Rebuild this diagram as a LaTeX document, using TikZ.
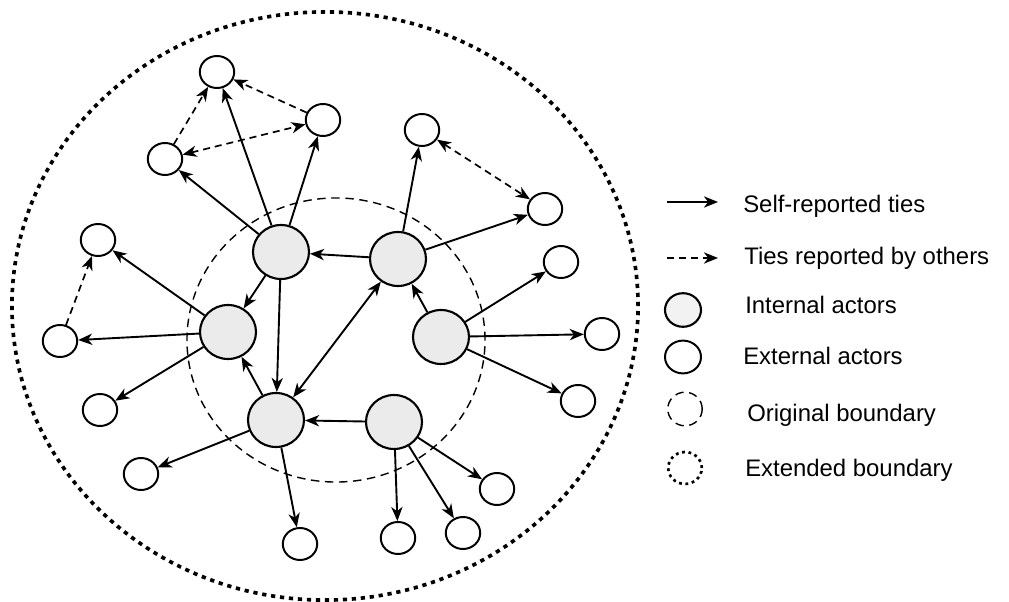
\documentclass[tikz,border=0pt]{standalone}
\usepackage{fontspec}
\setmainfont{Liberation Sans}
\usetikzlibrary{shapes.geometric,arrows.meta}

\tikzset{
  intern/.style={ellipse,draw,line width=1.5pt,fill=black!8,minimum width=1.4cm,minimum height=1.35cm,inner sep=0pt},
  extern/.style={ellipse,draw,line width=1.4pt,fill=white,minimum width=0.86cm,minimum height=0.8cm,inner sep=0pt},
  selftie/.style={line width=1.35pt,>={Stealth[length=10pt,width=8pt,inset=3pt]},->},
  othertie/.style={selftie,line width=1.2pt,dash pattern=on 5pt off 3.5pt},
  origbound/.style={line width=1pt,dash pattern=on 6pt off 4pt},
  extbound/.style={line width=2.6pt,dash pattern=on 3pt off 3.4pt},
  legtext/.style={anchor=base west,font=\fontsize{17}{20}\selectfont,inner sep=0pt}
}

\begin{document}
\begin{tikzpicture}[x=0.025cm,y=-0.025cm]
  \useasboundingbox (0,0) rectangle (1009,602);
  \draw[extbound] (325,306) ellipse [x radius=7.825cm, y radius=7.35cm];
  \draw[origbound] (336,340) ellipse [x radius=3.725cm, y radius=3.55cm];

  \path (281,252) node[intern] (ia) {};
  \path (398,259) node[intern] (ib) {};
  \path (228,332) node[intern] (ic) {};
  \path (441,337) node[intern] (id) {};
  \path (276,420) node[intern] (ie) {};
  \path (394,422) node[intern] (if) {};

  \path (217,72) node[extern] (x1) {};
  \path (323,120) node[extern] (x2) {};
  \path (165,159) node[extern] (x3) {};
  \path (422,130) node[extern] (x4) {};
  \path (545,209) node[extern] (x5) {};
  \path (98,240) node[extern] (x6) {};
  \path (60,341) node[extern] (x7) {};
  \path (100,410) node[extern] (x8) {};
  \path (561,262) node[extern] (x9) {};
  \path (602,334) node[extern] (x10) {};
  \path (578,401) node[extern] (x11) {};
  \path (141,474) node[extern] (x12) {};
  \path (300,544) node[extern] (x13) {};
  \path (398,538) node[extern] (x14) {};
  \path (463,533) node[extern] (x15) {};
  \path (497,489) node[extern] (x16) {};

  \begin{scope}[selftie]
    \draw (ia) -- (x1);
    \draw (ia) -- (x2);
    \draw (ia) -- (x3);
    \draw (ib) -- (ia);
    \draw (ia) -- (ic);
    \draw (ia) -- (ie);
    \draw (ib) -- (x4);
    \draw (ib) -- (x5);
    \draw (ic) -- (x6);
    \draw (ic) -- (x7);
    \draw (ic) -- (x8);
    \draw (id) -- (ib);
    \draw (id) -- (x9);
    \draw (id) -- (x10);
    \draw (id) -- (x11);
    \draw[<->] (ie) -- (ib);
    \draw (ie) -- (ic);
    \draw (ie) -- (x12);
    \draw (ie) -- (x13);
    \draw (if) -- (ie);
    \draw (if) -- (x14);
    \draw (if) -- (x15);
    \draw (if) -- (x16);
  \end{scope}
  \begin{scope}[othertie]
    \draw[<->] (x3) -- (x2);
    \draw (x3) -- (x1);
    \draw (x2) -- (x1);
    \draw[<->] (x4) -- (x5);
    \draw (x7) -- (x6);
  \end{scope}

  \coordinate (ls1) at (667,202);
  \coordinate (le1) at (718,202);
  \coordinate (ls2) at (667,258);
  \coordinate (le2) at (718,258);
  \draw[selftie] (ls1) -- (le1);
  \draw[othertie] (ls2) -- (le2);
  \path (683,310) node[intern,fill=black!5,minimum width=0.9cm,minimum height=0.84cm] (lgin) {};
  \path (683,357) node[extern,minimum width=0.9cm,minimum height=0.82cm] (lgex) {};
  \path (685,409) node[ellipse,draw,origbound,minimum width=0.86cm,minimum height=0.84cm] (lgorig) {};
  \path (685,468) node[ellipse,draw,extbound,line width=1.9pt,dash pattern=on 2pt off 2.6pt,minimum width=0.84cm,minimum height=0.8cm] (lgext) {};
  \path (743,213) node[legtext] (t1) {Self-reported ties};
  \path (744,265) node[legtext] (t2) {Ties reported by others};
  \path (745,314) node[legtext] (t3) {Internal actors};
  \path (743,365) node[legtext] (t4) {External actors};
  \path (747,422) node[legtext] (t5) {Original boundary};
  \path (745,477) node[legtext] (t6) {Extended boundary};
\end{tikzpicture}
\end{document}
